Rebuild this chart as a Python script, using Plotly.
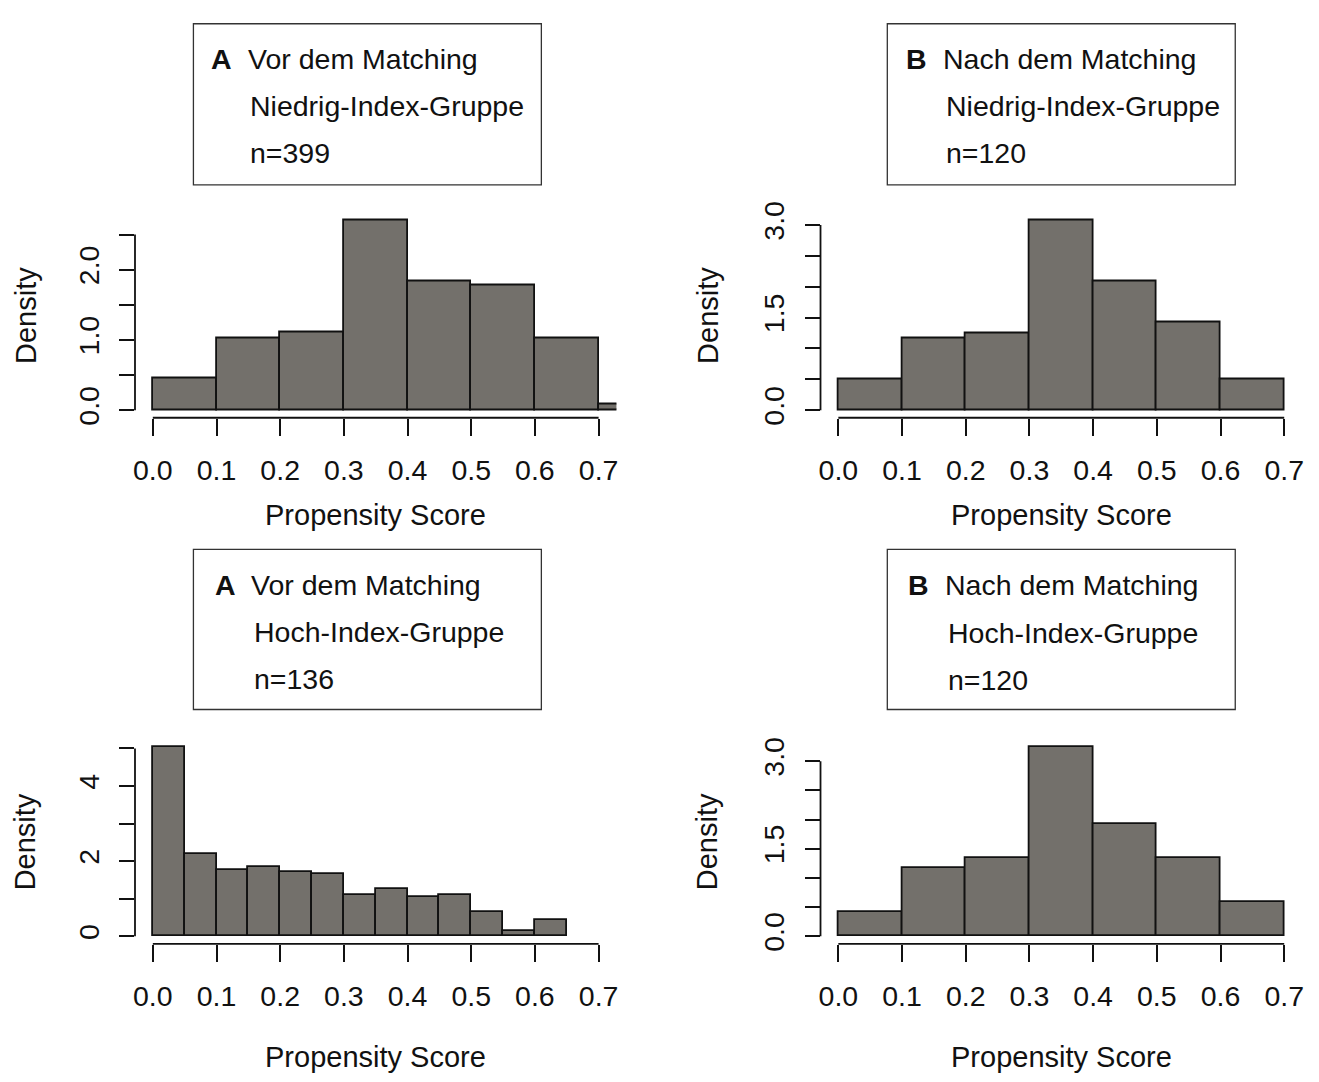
import plotly.graph_objects as go

W, H = 1319, 1082

# ---------------- data (densities) ----------------
edges_tl = [0.0, 0.1, 0.2, 0.3, 0.4, 0.5, 0.6, 0.7, 0.8]
dens_tl = [0.451, 1.028, 1.103, 2.707, 1.830, 1.779, 1.028, 0.075]

edges_tr = [0.0, 0.1, 0.2, 0.3, 0.4, 0.5, 0.6, 0.7]
dens_tr = [0.500, 1.167, 1.250, 3.083, 2.083, 1.417, 0.500]

edges_bl = [0.0, 0.05, 0.10, 0.15, 0.20, 0.25, 0.30, 0.35, 0.40, 0.45,
            0.50, 0.55, 0.60, 0.65]
dens_bl = [5.05, 2.20, 1.76, 1.84, 1.70, 1.65, 1.11, 1.26, 1.05, 1.11,
           0.64, 0.13, 0.44]

edges_br = [0.0, 0.1, 0.2, 0.3, 0.4, 0.5, 0.6, 0.7]
dens_br = [0.417, 1.167, 1.333, 3.250, 1.917, 1.333, 0.583]

x_ticks = [0.0, 0.1, 0.2, 0.3, 0.4, 0.5, 0.6, 0.7]
x_ticktext = ["0.0", "0.1", "0.2", "0.3", "0.4", "0.5", "0.6", "0.7"]

y_ticks_tl = [0.0, 0.5, 1.0, 1.5, 2.0, 2.5]
y_text_tl = ["0.0", "", "1.0", "", "2.0", ""]
y_ticks_tr = [0.0, 0.5, 1.0, 1.5, 2.0, 2.5, 3.0]
y_text_tr = ["0.0", "", "", "1.5", "", "", "3.0"]
y_ticks_bl = [0, 1, 2, 3, 4, 5]
y_text_bl = ["0", "", "2", "", "4", ""]
y_ticks_br = [0.0, 0.5, 1.0, 1.5, 2.0, 2.5, 3.0]
y_text_br = ["0.0", "", "", "1.5", "", "", "3.0"]

labels_tl = ["A", "Vor dem Matching", "Niedrig-Index-Gruppe", "n=399"]
labels_tr = ["B", "Nach dem Matching", "Niedrig-Index-Gruppe", "n=120"]
labels_bl = ["A", "Vor dem Matching", "Hoch-Index-Gruppe", "n=136"]
labels_br = ["B", "Nach dem Matching", "Hoch-Index-Gruppe", "n=120"]

x_title = "Propensity Score"
y_title = "Density"

# ---------------- styling ----------------
FONT = "Liberation Sans, Arial, Helvetica, sans-serif"
FS = 28.5
FS_TITLE = 29
BAR_FILL = "#73706b"
INK = "#111111"


def px_x(p):
    return p / W


def px_y(p):
    return 1 - p / H


panels = [
    dict(edges=edges_tl, dens=dens_tl, yt=y_ticks_tl, ytx=y_text_tl, lab=labels_tl,
         area=(133.4, 616.3, 205, 414), box=(192, 541, 13, 177),
         tx=(208, 245, 247), ty=(49, 97, 145), ytx_x=24, xt_y=513),
    dict(edges=edges_tr, dens=dens_tr, yt=y_ticks_tr, ytx=y_text_tr, lab=labels_tr,
         area=(821, 1304, 205, 414), box=(888, 1237, 13, 177),
         tx=(905, 942, 945), ty=(49, 97, 145), ytx_x=708, xt_y=513),
    dict(edges=edges_bl, dens=dens_bl, yt=y_ticks_bl, ytx=y_text_bl, lab=labels_bl,
         area=(133.4, 616.3, 741, 949.5), box=(192, 541, 548, 711),
         tx=(212, 248, 251), ty=(584, 632, 680), ytx_x=23, xt_y=1065),
    dict(edges=edges_br, dens=dens_br, yt=y_ticks_br, ytx=y_text_br, lab=labels_br,
         area=(821, 1304, 741, 949.5), box=(888, 1237, 548, 711),
         tx=(907, 944, 947), ty=(584, 633, 681), ytx_x=708, xt_y=1065),
]

fig = go.Figure()
shapes = []
annotations = []
layout = {}

for i, p in enumerate(panels, start=1):
    xa = "x" if i == 1 else f"x{i}"
    ya = "y" if i == 1 else f"y{i}"
    edges = p["edges"]
    lefts = edges[:-1]
    rights = edges[1:]
    centers = [(a + b) / 2 for a, b in zip(lefts, rights)]
    widths = [b - a for a, b in zip(lefts, rights)]
    fig.add_trace(go.Bar(
        x=centers, y=p["dens"], width=widths, base=0,
        marker=dict(color=BAR_FILL, line=dict(color=INK, width=1.8)),
        xaxis=xa, yaxis=ya, showlegend=False, hoverinfo="x+y",
    ))
    m = max(p["dens"])
    yrange = [-0.04 * m, 1.04 * m]
    ax0, ax1, ay0, ay1 = p["area"]
    xkey = "xaxis" if i == 1 else f"xaxis{i}"
    ykey = "yaxis" if i == 1 else f"yaxis{i}"
    layout[xkey] = dict(
        domain=[px_x(ax0), px_x(ax1)], anchor=ya, range=[-0.028, 0.728],
        showline=False, showgrid=False, zeroline=False,
        ticks="outside", ticklen=17, tickwidth=1.8, tickcolor=INK,
        tickvals=x_ticks, ticktext=x_ticktext,
        tickfont=dict(family=FONT, size=FS, color=INK),
        ticklabelstandoff=10, fixedrange=True,
    )
    layout[ykey] = dict(
        domain=[px_y(ay1), px_y(ay0)], anchor=xa, range=yrange,
        showline=False, showgrid=False, zeroline=False,
        ticks="outside", ticklen=15, tickwidth=1.8, tickcolor=INK,
        tickvals=p["yt"], ticktext=p["ytx"], tickangle=-90,
        tickfont=dict(family=FONT, size=FS, color=INK),
        ticklabelstandoff=9, fixedrange=True,
    )
    # R-style axis lines spanning only the tick range
    shapes.append(dict(type="line", xref=xa, yref=f"{ya} domain",
                       x0=x_ticks[0], x1=x_ticks[-1], y0=0, y1=0,
                       line=dict(color=INK, width=1.8)))
    shapes.append(dict(type="line", xref=f"{xa} domain", yref=ya,
                       x0=0, x1=0, y0=p["yt"][0], y1=p["yt"][-1],
                       line=dict(color=INK, width=1.8)))
    # legend-like text box
    bx0, bx1, by0, by1 = p["box"]
    shapes.append(dict(type="rect", xref="paper", yref="paper",
                       x0=px_x(bx0), x1=px_x(bx1), y0=px_y(by1), y1=px_y(by0),
                       line=dict(color="#333333", width=1.3), fillcolor="rgba(0,0,0,0)"))
    lab = p["lab"]
    tx = p["tx"]
    ty = p["ty"]
    annotations.append(dict(text=f"<b>{lab[0]}</b>", x=px_x(tx[0]), y=px_y(ty[0]),
                            xref="paper", yref="paper", xanchor="left", yanchor="middle",
                            showarrow=False, font=dict(family=FONT, size=FS, color=INK)))
    annotations.append(dict(text=lab[1], x=px_x(tx[1]), y=px_y(ty[0]),
                            xref="paper", yref="paper", xanchor="left", yanchor="middle",
                            showarrow=False, font=dict(family=FONT, size=FS, color=INK)))
    annotations.append(dict(text=lab[2], x=px_x(tx[2]), y=px_y(ty[1]),
                            xref="paper", yref="paper", xanchor="left", yanchor="middle",
                            showarrow=False, font=dict(family=FONT, size=FS, color=INK)))
    annotations.append(dict(text=lab[3], x=px_x(tx[2]), y=px_y(ty[2]),
                            xref="paper", yref="paper", xanchor="left", yanchor="middle",
                            showarrow=False, font=dict(family=FONT, size=FS, color=INK)))
    # axis titles
    annotations.append(dict(text=y_title, textangle=-90, x=px_x(p["ytx_x"]),
                            y=px_y((ay0 + ay1) / 2), xref="paper", yref="paper",
                            xanchor="center", yanchor="middle", showarrow=False,
                            font=dict(family=FONT, size=FS_TITLE, color=INK)))
    annotations.append(dict(text=x_title, x=px_x((ax0 + ax1) / 2), y=px_y(p["xt_y"]),
                            xref="paper", yref="paper", xanchor="center", yanchor="middle",
                            showarrow=False, font=dict(family=FONT, size=FS_TITLE, color=INK)))

fig.update_layout(
    width=W, height=H, margin=dict(l=0, r=0, t=0, b=0),
    paper_bgcolor="white", plot_bgcolor="white",
    bargap=0, shapes=shapes, annotations=annotations,
    font=dict(family=FONT, size=FS, color=INK),
    **layout,
)

fig.write_html("out.html", config={"displayModeBar": False},
               post_script="document.body.style.margin='0';document.body.style.overflow='hidden';")
